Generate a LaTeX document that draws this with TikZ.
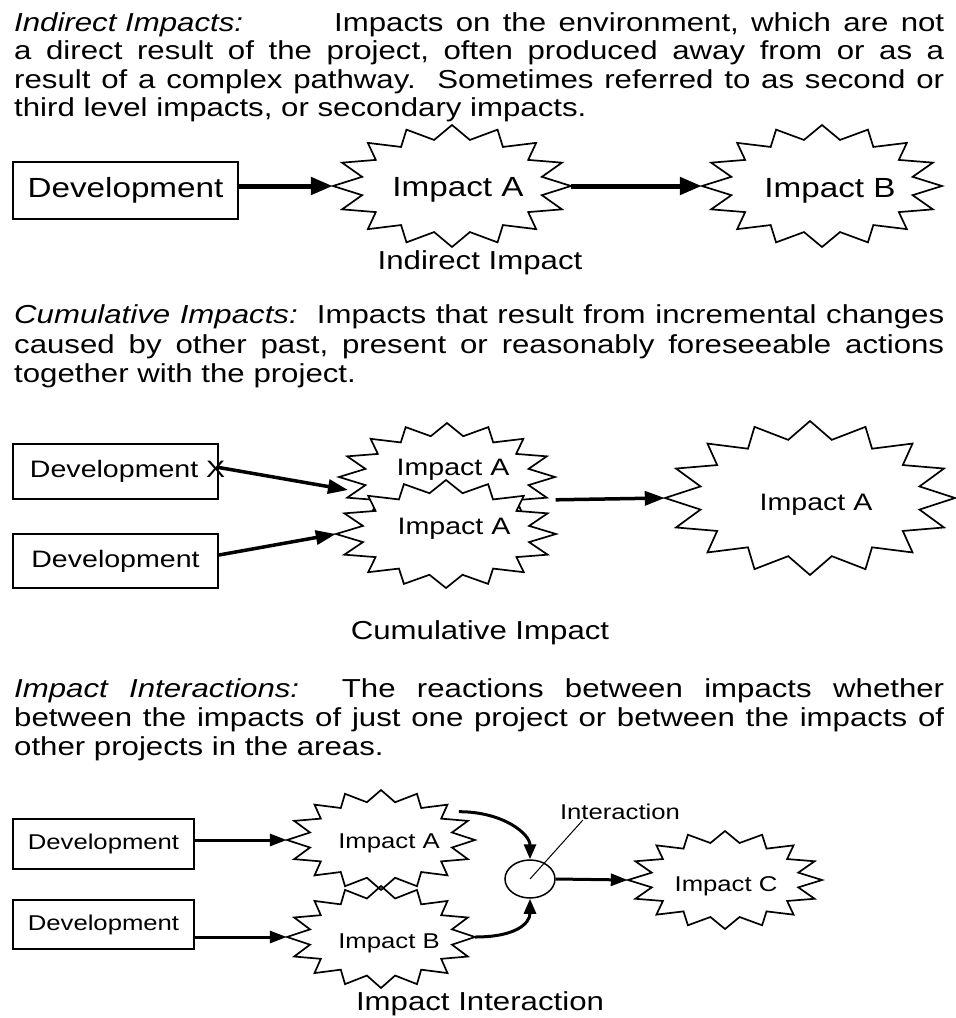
\documentclass[tikz,border=0pt]{standalone}
\usepackage{fontspec}
\setmainfont[FakeStretch=1.2]{Liberation Sans}
\usetikzlibrary{shapes.geometric,arrows.meta,calc}
\newcommand{\szP}{\fontsize{26}{29}\selectfont\frenchspacing}
\newcommand{\szL}{\fontsize{26}{29}\selectfont}
\newcommand{\szA}{\fontsize{27.7}{31}\selectfont}
\newcommand{\szB}{\fontsize{23.8}{27}\selectfont}
\newcommand{\szC}{\fontsize{21.4}{24}\selectfont}
\newcommand{\sdip}{0.23}
\newcommand{\burst}[6]{%
  \draw[starline,#6] ({#2+#4},#3) \foreach \k in {1,...,31}{ -- ({#2+#4*(1-\sdip*mod(\k,2))*cos(\k*11.25)},{#3+#5*(1-\sdip*mod(\k,2))*sin(\k*11.25)}) } -- cycle;
  \node[ellipse, inner sep=0pt, minimum width=2*#4, minimum height=2*#5] (#1) at (#2,#3) {};
}
\begin{document}
\begin{tikzpicture}[x=1pt,y=-1pt,
  box/.style={draw, line width=1.8pt, inner sep=0pt},
  starline/.style={line width=1.7pt, line join=miter, fill=white},
  para/.style={anchor=base west, inner sep=0pt, font=\szP},
  ar1/.style={line width=5pt, -{Triangle[length=22pt,width=17pt]}},
  ar2/.style={line width=3.5pt, -{Triangle[length=20pt,width=14pt]}},
  ar3/.style={line width=3pt, -{Triangle[length=17pt,width=12pt]}},
  ar3c/.style={line width=3pt, -{Triangle[length=15pt,width=12pt]}}]
\fill[white] (0,0) rectangle (956,1018);
\useasboundingbox (0,0) rectangle (956,1018);

% paragraph 1
\node[para] (p11) at (14,31) {\textit{Indirect Impacts:}};
\node[para] (p12) at (334,31) {\makebox[610pt][s]{Impacts on the environment, which are not}};
\node[para] (p13) at (14,59.5) {\makebox[930pt][s]{a direct result of the project, often produced away from or as a}};
\node[para] (p14) at (14,88) {\makebox[930pt][s]{result of a complex pathway.\ \ Sometimes referred to as second or}};
\node[para] (p15) at (14,116.5) {third level impacts, or secondary impacts.};

% section 1
\node[box, minimum width=225, minimum height=57, font=\szA] (d1) at (125.5,190.5) {Development};
\burst{s1a}{452}{186}{119}{61}{}
\burst{s1b}{822}{186}{120}{61}{}
\node[font=\szA] (ta1) at (458,190) {Impact A};
\node[font=\szA] (tb1) at (830,191) {Impact B};
\draw[ar1] (d1.east |- s1a.west) -- (s1a.west);
\draw[ar1] (s1a.east) -- (s1b.west);
\node[font=\szL] (l1) at (480,263) {Indirect Impact};

% paragraph 2
\node[para] (p21) at (14,323.5) {\makebox[930pt][s]{\textit{Cumulative Impacts:}\ \ Impacts that result from incremental changes}};
\node[para] (p22) at (14,353) {\makebox[930pt][s]{caused by other past, present or reasonably foreseeable actions}};
\node[para] (p23) at (14,382.5) {together with the project.};

% section 2
\node[box, minimum width=205, minimum height=55, font=\szB] (dx) at (115.5,471.5) {\makebox[171pt][l]{Development X}};
\node[box, minimum width=205, minimum height=54, font=\szB] (dy) at (115.5,561) {Development};
\burst{s2a}{447}{477}{108}{54}{}
\burst{s2b}{446}{534}{110}{54}{}
\node[font=\szB] (ta2) at (453,470) {Impact A};
\node[font=\szB] (tb2) at (454,529) {Impact A};
\burst{s2c}{810}{498}{145}{77}{}
\node[font=\szB] (tc2) at (816,505) {Impact A};
\coordinate (e21) at ($(s2a.center)+(-99,13)$);
\draw[ar2] ($(dx.east)+(0,-4)$) -- (e21);
\draw[ar2] ($(dy.east)+(0,-6)$) -- (s2b.west);
\draw[ar2] ($(s2a.east)!0.4!(s2b.east)$) -- (s2c.west);
\node[font=\szL] (l2) at (480,633) {Cumulative Impact};

% paragraph 3
\node[para] (p31) at (14,697) {\makebox[930pt][s]{\textit{Impact Interactions:}\ \ The reactions between impacts whether}};
\node[para] (p32) at (14,726) {\makebox[930pt][s]{between the impacts of just one project or between the impacts of}};
\node[para] (p33) at (14,755) {other projects in the areas.};

% section 3
\node[box, minimum width=181, minimum height=50, font=\szC] (d31) at (103.5,844) {Development};
\node[box, minimum width=181, minimum height=49, font=\szC] (d32) at (103.5,924.5) {Development};
\burst{s3a}{381}{840}{94}{50}{fill=none}
\burst{s3b}{381}{937}{94}{51}{fill=none}
\node[font=\szC] (ta3) at (389,843) {Impact A};
\node[font=\szC] (tb3) at (389,943) {Impact B};
\burst{s3c}{725}{880}{97}{49}{}
\node[font=\szC] (tc3) at (726,886) {Impact C};
\node[draw, ellipse, line width=1.5pt, minimum width=50, minimum height=38, inner sep=0pt] (ic) at (530,879) {};
\node[font=\szC, inner sep=0pt] (il) at (620,812) {Interaction};
\draw[line width=1pt] (ic.center) -- ($(il.south west)+(23,0)$);
\draw[ar3] (d31.east |- s3a.west) -- (s3a.west);
\draw[ar3] (d32.east |- s3b.west) -- (s3b.west);
\draw[ar3c] (s3a.20) .. controls ($(s3a.20)+(45,0)$) and ($(ic.north)+(0,-25)$) .. (ic.north);
\draw[ar3c] (s3b.east) .. controls ($(s3b.east)+(40,0)$) and ($(ic.south)+(0,25)$) .. (ic.south);
\draw[ar3] (ic.east) -- (s3c.west);
\node[font=\szL] (l3) at (480,1004) {Impact Interaction};
\end{tikzpicture}
\end{document}
